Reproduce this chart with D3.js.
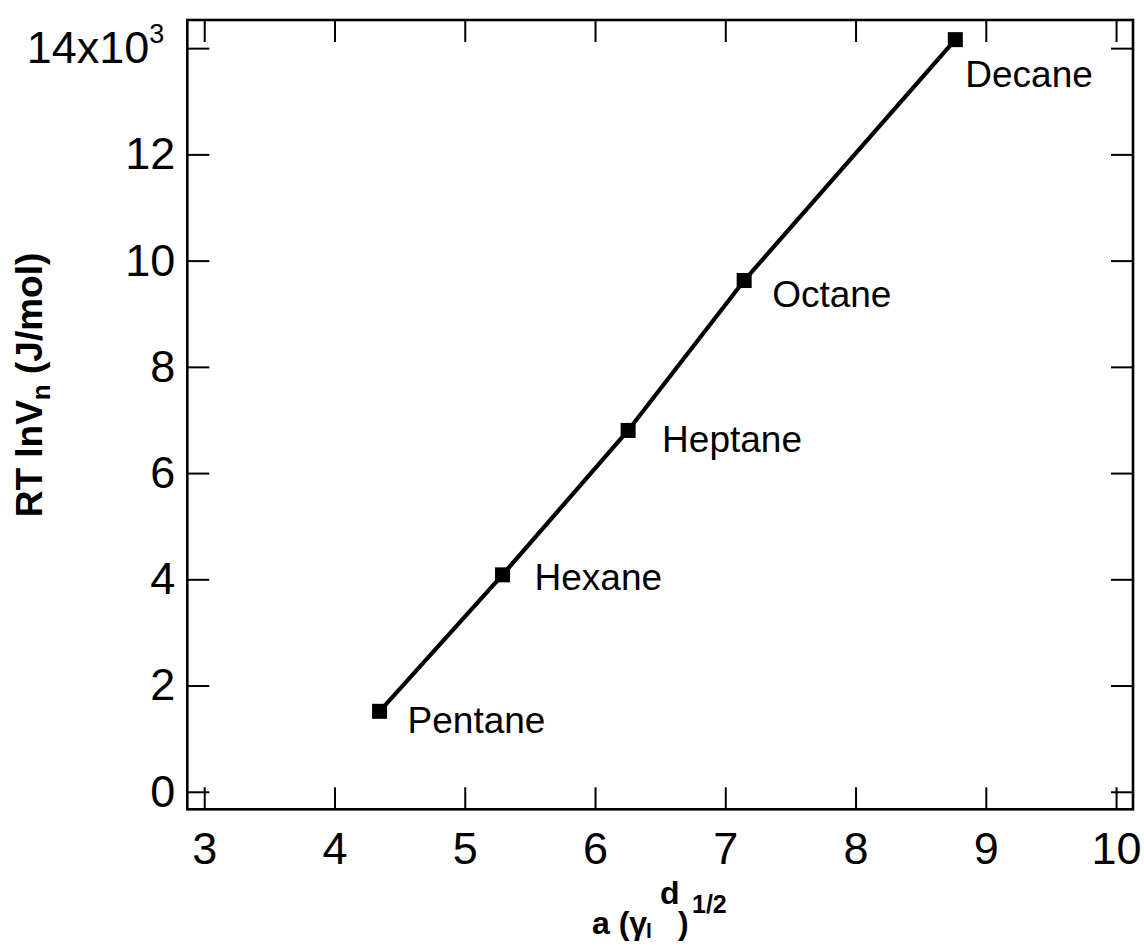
<!DOCTYPE html>
<html>
<head>
<meta charset="utf-8">
<script src="https://cdn.jsdelivr.net/npm/d3@7/dist/d3.min.js"></script>
<style>
  html, body { margin: 0; padding: 0; background: #fff; }
  svg { display: block; }
  text { font-family: "Liberation Sans", Arial, sans-serif; fill: #000; }
</style>
</head>
<body>
<svg id="chart" width="1144" height="946"></svg>
<script>
// n-alkane probes and their measured coordinates
const probes  = ["Pentane", "Hexane", "Heptane", "Octane", "Decane"];
const xValues = [4.346, 5.29, 6.254, 7.145, 8.766];     // a (γl^d)^1/2
const yValues = [1515, 4084, 6803, 9625, 14160];         // RT lnVn (J/mol)

const xTicks = [3, 4, 5, 6, 7, 8, 9, 10];
const yTicks = [0, 2000, 4000, 6000, 8000, 10000, 12000, 14000];
const yTickLabels = ["0", "2", "4", "6", "8", "10", "12", "14x10"];
const yExponent = "3";

// label placement relative to each marker (px)
const labelOffsets = [[28, 22], [32, 15], [34, 22], [28, 26], [10, 47]];

const svg = d3.select("#chart");
const frame = { left: 187.3, right: 1133, top: 20, bottom: 809.3 };

const x = d3.scaleLinear().domain([2.87, 10.13]).range([frame.left, frame.right]);
const y = d3.scaleLinear().domain([-330, 14530]).range([frame.bottom, frame.top]);

const tickLen = 22;
const fmtY = (d) => yTickLabels[yTicks.indexOf(d)];

// bottom axis with labels, ticks pointing inward
const gB = svg.append("g").attr("transform", `translate(0,${frame.bottom})`)
  .call(d3.axisBottom(x).tickValues(xTicks).tickSize(-tickLen).tickPadding(23).tickFormat(d3.format("d")));
// top mirror ticks
const gT = svg.append("g").attr("transform", `translate(0,${frame.top})`)
  .call(d3.axisTop(x).tickValues(xTicks).tickSize(-tickLen).tickFormat(""));
// left axis with labels
const gL = svg.append("g").attr("transform", `translate(${frame.left},0)`)
  .call(d3.axisLeft(y).tickValues(yTicks).tickSize(-tickLen).tickPadding(12).tickFormat(fmtY));
// right mirror ticks
const gR = svg.append("g").attr("transform", `translate(${frame.right},0)`)
  .call(d3.axisRight(y).tickValues(yTicks).tickSize(-tickLen).tickFormat(""));

[gB, gT, gL, gR].forEach(g => {
  g.select(".domain").remove();
  g.selectAll(".tick line").attr("stroke", "#000").attr("stroke-width", 2);
  g.selectAll(".tick text").attr("font-size", 45).attr("font-family", "'Liberation Sans', Arial, sans-serif").attr("fill", "#000");
});

// exponent on the top y label
gL.selectAll(".tick text").filter(d => d === 14000)
  .attr("dx", -11)
  .append("tspan").attr("font-size", 27).attr("dy", "-0.75em").text(yExponent);

// plot frame
svg.append("rect")
  .attr("x", frame.left).attr("y", frame.top)
  .attr("width", frame.right - frame.left).attr("height", frame.bottom - frame.top)
  .attr("fill", "none").attr("stroke", "#000").attr("stroke-width", 2.6);

// data line and markers
const pts = xValues.map((v, i) => ({ name: probes[i], x: v, y: yValues[i], off: labelOffsets[i] }));
svg.append("path")
  .datum(pts)
  .attr("fill", "none").attr("stroke", "#000").attr("stroke-width", 4.2)
  .attr("d", d3.line().x(d => x(d.x)).y(d => y(d.y)));

const size = 15;
svg.append("g").selectAll("rect").data(pts).join("rect")
  .attr("x", d => x(d.x) - size / 2).attr("y", d => y(d.y) - size / 2)
  .attr("width", size).attr("height", size).attr("fill", "#000");

svg.append("g").selectAll("text").data(pts).join("text")
  .attr("x", d => x(d.x) + d.off[0]).attr("y", d => y(d.y) + d.off[1])
  .attr("font-size", 37).text(d => d.name);

// y axis title
const yt = svg.append("text")
  .attr("transform", "translate(42,385) rotate(-90)")
  .attr("text-anchor", "middle").attr("font-weight", "bold").attr("font-size", 37);
yt.append("tspan").text("RT lnV");
yt.append("tspan").attr("font-size", 26).attr("dy", 8).text("n");
yt.append("tspan").attr("dy", -8).text(" (J/mol)");

// x axis title
const xt = svg.append("text").attr("font-weight", "bold").attr("font-size", 32);
xt.append("tspan").attr("x", 592).attr("y", 934).text("a (γ");
xt.append("tspan").attr("x", 646).attr("y", 938).attr("font-size", 21).text("l");
xt.append("tspan").attr("x", 660).attr("y", 904).text("d");
xt.append("tspan").attr("x", 678).attr("y", 934).text(")");
xt.append("tspan").attr("x", 692).attr("y", 913).attr("font-size", 25).text("1/2");
</script>
</body>
</html>
